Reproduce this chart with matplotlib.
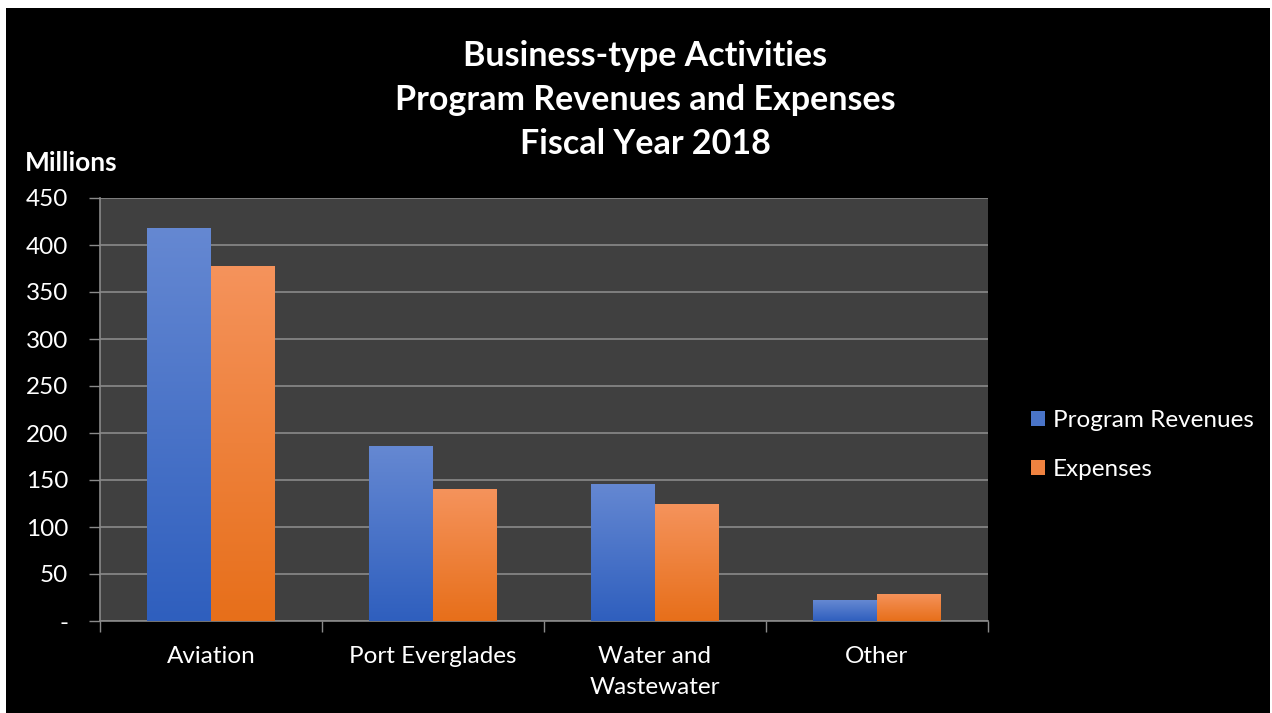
import numpy as np
import matplotlib
matplotlib.use("Agg")
import matplotlib.pyplot as plt
from matplotlib.patches import Rectangle, Patch
from matplotlib.colors import LinearSegmentedColormap

plt.rcParams['font.family'] = ['Lato', 'DejaVu Sans']

categories = ["Aviation", "Port Everglades", "Water and\nWastewater", "Other"]
revenues = [418, 186, 146, 22]
expenses = [378, 140, 124, 29]
y_ticks = [0, 50, 100, 150, 200, 250, 300, 350, 400, 450]
y_labels = ["-", "50", "100", "150", "200", "250", "300", "350", "400", "450"]

blue_top, blue_bottom = "#6588d2", "#2f5fbe"
orange_top, orange_bottom = "#f5935c", "#e76f1a"


def gradient_fill(ax, bars, top, bottom):
    cmap = LinearSegmentedColormap.from_list("g", [bottom, top])
    grad = np.linspace(0, 1, 256).reshape(-1, 1)
    for b in bars:
        x0, y0 = b.get_x(), b.get_y()
        w, h = b.get_width(), b.get_height()
        b.set_facecolor("none")
        im = ax.imshow(grad, cmap=cmap, aspect="auto", origin="lower",
                       extent=(x0, x0 + w, y0, y0 + h), zorder=3)
        im.set_clip_path(b)


fig = plt.figure(figsize=(12.72, 7.13), dpi=100, facecolor="white")
fig.patches.append(Rectangle((6 / 1272, 0), 1264 / 1272, 705 / 713,
                             transform=fig.transFigure, facecolor="black",
                             edgecolor="none", zorder=-10))

ax = fig.add_axes([100 / 1272, 92 / 713, 888 / 1272, 423 / 713])
ax.set_facecolor("#404040")

x = np.arange(len(categories))
w = 0.288
b1 = ax.bar(x - w / 2, revenues, w, zorder=3, edgecolor="none")
b2 = ax.bar(x + w / 2, expenses, w, zorder=3, edgecolor="none")
gradient_fill(ax, b1, blue_top, blue_bottom)
gradient_fill(ax, b2, orange_top, orange_bottom)

ax.set_xlim(-0.5, len(categories) - 0.5)
ax.set_ylim(0, 450)
ax.set_yticks(y_ticks)
ax.set_yticklabels(y_labels)
ax.yaxis.grid(True, color="#8a8a8a", linewidth=1.2, zorder=1)
ax.set_axisbelow(True)

ax.set_xticks(x)
ax.set_xticklabels(categories)
ax.set_xticks(np.arange(len(categories) + 1) - 0.5, minor=True)
ax.tick_params(axis="x", which="major", length=0, pad=18, labelsize=17.5,
               labelcolor="white")
ax.tick_params(axis="x", which="minor", length=8, color="#8a8a8a", width=1)
ax.tick_params(axis="y", length=8, color="#8a8a8a", width=1, pad=15,
               labelsize=17.5, labelcolor="white")
for lbl in ax.get_xticklabels():
    lbl.set_linespacing(1.6)

for side in ["top", "right"]:
    ax.spines[side].set_visible(False)
for side in ["left", "bottom"]:
    ax.spines[side].set_color("#8a8a8a")
    ax.spines[side].set_linewidth(1.2)

fig.text(645 / 1272, 1 - 100 / 713,
         "Business-type Activities\nProgram Revenues and Expenses\nFiscal Year 2018",
         ha="center", va="center", color="white", fontsize=24.5,
         fontweight="bold", linespacing=1.46)
fig.text(25 / 1272, 1 - 163 / 713, "Millions", ha="left", va="center",
         color="white", fontsize=19, fontweight="bold")

handles = [Patch(facecolor="#4a74c8", label="Program Revenues"),
           Patch(facecolor="#ef8240", label="Expenses")]
leg = fig.legend(handles=handles, loc="center left",
                 bbox_to_anchor=(1009 / 1272, 1 - 445 / 713), frameon=False,
                 fontsize=17.5, labelcolor="white", handlelength=0.6,
                 handleheight=0.6, handletextpad=0.3, labelspacing=1.15)

fig.savefig("out.png", dpi=100, facecolor=fig.get_facecolor())
